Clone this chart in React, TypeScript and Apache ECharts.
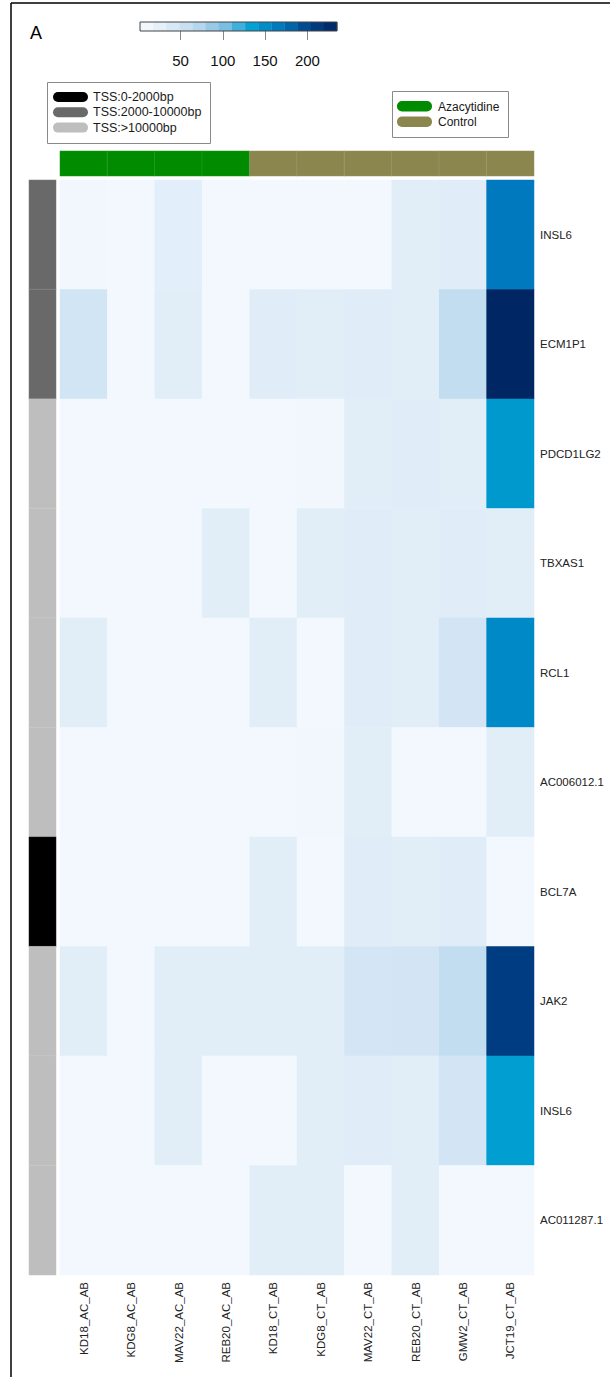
import React, { useEffect, useRef } from "react";
import * as echarts from "echarts";

const columns = [
  "KD18_AC_AB", "KDG8_AC_AB", "MAV22_AC_AB", "REB20_AC_AB", "KD18_CT_AB",
  "KDG8_CT_AB", "MAV22_CT_AB", "REB20_CT_AB", "GMW2_CT_AB", "JCT19_CT_AB",
];
const genes = [
  "INSL6", "ECM1P1", "PDCD1LG2", "TBXAS1", "RCL1",
  "AC006012.1", "BCL7A", "JAK2", "INSL6", "AC011287.1",
];
// rows = genes, columns = samples
const values = [
  [10, 8, 29, 9, 8, 8, 9, 30, 31, 167],
  [46, 9, 30, 8, 31, 30, 31, 30, 62, 233],
  [9, 9, 8, 8, 9, 10, 30, 31, 30, 141],
  [9, 8, 9, 30, 9, 30, 31, 30, 31, 30],
  [30, 9, 8, 9, 30, 9, 31, 30, 45, 154],
  [9, 9, 8, 9, 9, 10, 30, 8, 8, 30],
  [9, 9, 9, 8, 30, 9, 31, 30, 31, 9],
  [30, 9, 30, 30, 30, 30, 44, 45, 62, 208],
  [9, 9, 30, 9, 8, 30, 31, 30, 45, 137],
  [9, 9, 9, 9, 30, 30, 9, 30, 9, 9],
];
const treatment = [
  "Azacytidine", "Azacytidine", "Azacytidine", "Azacytidine",
  "Control", "Control", "Control", "Control", "Control", "Control",
];
const tssClass = [
  "TSS:2000-10000bp", "TSS:2000-10000bp", "TSS:>10000bp", "TSS:>10000bp", "TSS:>10000bp",
  "TSS:>10000bp", "TSS:0-2000bp", "TSS:>10000bp", "TSS:>10000bp", "TSS:>10000bp",
];
const tssLevels = ["TSS:0-2000bp", "TSS:2000-10000bp", "TSS:>10000bp"];
const treatmentLevels = ["Azacytidine", "Control"];
const keyTicks = [50, 100, 150, 200];
const keyBreaks = [2, 17.5, 33, 48.6, 64.1, 79.7, 95.2, 110.7, 126.3, 141.8, 157.3, 172.9, 188.4, 204, 219.5, 235];
const valueMin = 2;
const valueMax = 235;

const tssColors = ["#000000", "#696969", "#BEBEBE"];
const treatmentColors = ["#008B00", "#8B864E"];
const rampColors = ["#F7FBFF", "#DDEBF7", "#BBD8EE", "#7DC0E3", "#00A0D2", "#0077BE", "#004288", "#002461"];

const FONT = "'Liberation Sans', Arial, Helvetica, sans-serif";

export default function App() {
  const ref = useRef<HTMLDivElement>(null);
  useEffect(() => {
    document.body.style.margin = "0";
    if (!ref.current) return;
    const chart = echarts.init(ref.current, undefined, { renderer: "svg" });

    const heatData: number[][] = [];
    values.forEach((row, r) => row.forEach((v, c) => heatData.push([c, r, v])));
    const tssData = tssClass.map((t, r) => [0, r, tssLevels.indexOf(t)]);
    const trtData = treatment.map((t, c) => [c, 0, treatmentLevels.indexOf(t)]);
    const keyData: number[][] = [];
    for (let i = 0; i < keyBreaks.length - 1; i++) {
      keyData.push([keyBreaks[i], keyBreaks[i + 1], (keyBreaks[i] + keyBreaks[i + 1]) / 2]);
    }

    const legendItems: any[] = [];
    legendItems.push({
      type: "rect", shape: { x: 47.5, y: 82.5, width: 163, height: 61 },
      style: { fill: "none", stroke: "#8a8a8a", lineWidth: 1 }, z: 10,
    });
    tssLevels.forEach((t, i) => {
      legendItems.push({
        type: "rect", shape: { x: 53, y: 92 + i * 15.3, width: 35, height: 10, r: 5 },
        style: { fill: tssColors[i] }, z: 10,
      });
      legendItems.push({
        type: "text", x: 93, y: 97 + i * 15.3,
        style: { text: t, fontSize: 12.5, fontFamily: FONT, fill: "#1a1a1a", verticalAlign: "middle", align: "left" }, z: 10,
      });
    });
    legendItems.push({
      type: "rect", shape: { x: 392.5, y: 91.5, width: 116, height: 46 },
      style: { fill: "none", stroke: "#8a8a8a", lineWidth: 1 }, z: 10,
    });
    treatmentLevels.forEach((t, i) => {
      legendItems.push({
        type: "rect", shape: { x: 397, y: 101 + i * 15.5, width: 35, height: 10.5, r: 5 },
        style: { fill: treatmentColors[i] }, z: 10,
      });
      legendItems.push({
        type: "text", x: 438, y: 106.5 + i * 15.5,
        style: { text: t, fontSize: 12, fontFamily: FONT, fill: "#1a1a1a", verticalAlign: "middle", align: "left" }, z: 10,
      });
    });

    const hiddenAxis = { show: false };
    const noAxisDecor = {
      axisLine: { show: false }, axisTick: { show: false }, splitLine: { show: false },
    };

    chart.setOption({
      animation: false,
      backgroundColor: "#ffffff",
      textStyle: { fontFamily: FONT },
      grid: [
        { left: 60, top: 180, width: 474, height: 1095 },
        { left: 29, top: 180, width: 27, height: 1095 },
        { left: 60, top: 151, width: 474, height: 25 },
        { left: 140, top: 22, width: 197, height: 9 },
      ],
      xAxis: [
        {
          type: "category", data: columns, gridIndex: 0, position: "bottom", ...noAxisDecor,
          axisLabel: { rotate: 90, interval: 0, margin: 7, fontSize: 11.5, color: "#222", fontFamily: FONT },
        },
        { type: "category", data: ["TSS"], gridIndex: 1, ...hiddenAxis },
        { type: "category", data: columns, gridIndex: 2, ...hiddenAxis },
        {
          type: "value", gridIndex: 3, min: valueMin, max: valueMax, position: "bottom",
          axisLine: { show: false }, splitLine: { show: false },
          axisTick: { show: true, customValues: keyTicks, length: 9, lineStyle: { color: "#888", width: 1 } },
          axisLabel: { show: true, customValues: keyTicks, margin: 22, fontSize: 15, color: "#111", fontFamily: FONT },
        },
      ],
      yAxis: [
        {
          type: "category", data: genes, gridIndex: 0, inverse: true, position: "right", ...noAxisDecor,
          axisLabel: { interval: 0, margin: 6, fontSize: 11.5, color: "#222", fontFamily: FONT },
        },
        { type: "category", data: genes, gridIndex: 1, inverse: true, ...hiddenAxis },
        { type: "category", data: ["Treatment"], gridIndex: 2, ...hiddenAxis },
        { type: "value", gridIndex: 3, min: 0, max: 1, ...hiddenAxis },
      ],
      visualMap: [
        {
          type: "continuous", show: false, min: valueMin, max: valueMax, dimension: 2,
          seriesIndex: [0, 3], inRange: { color: rampColors },
        },
        {
          type: "piecewise", show: false, dimension: 2, seriesIndex: 1,
          pieces: tssLevels.map((t, i) => ({ value: i, color: tssColors[i], label: t })),
        },
        {
          type: "piecewise", show: false, dimension: 2, seriesIndex: 2,
          pieces: treatmentLevels.map((t, i) => ({ value: i, color: treatmentColors[i], label: t })),
        },
      ],
      series: [
        {
          type: "heatmap", xAxisIndex: 0, yAxisIndex: 0, data: heatData,
          itemStyle: { borderWidth: 0 }, emphasis: { disabled: true }, progressive: 0,
        },
        {
          type: "heatmap", xAxisIndex: 1, yAxisIndex: 1, data: tssData,
          itemStyle: { borderWidth: 0.6, borderColor: "rgba(255,255,255,0.18)" }, emphasis: { disabled: true },
        },
        {
          type: "heatmap", xAxisIndex: 2, yAxisIndex: 2, data: trtData,
          itemStyle: { borderWidth: 0.6, borderColor: "rgba(255,255,255,0.18)" }, emphasis: { disabled: true },
        },
        {
          type: "custom", xAxisIndex: 3, yAxisIndex: 3, data: keyData,
          dimensions: ["start", "end", "value"], encode: { x: [0, 1] }, silent: true,
          renderItem: (params: any, api: any) => {
            const s = api.coord([api.value(0), 1]);
            const e = api.coord([api.value(1), 0]);
            return {
              type: "rect",
              shape: { x: s[0], y: s[1], width: e[0] - s[0] + 0.3, height: e[1] - s[1] },
              style: { fill: api.visual("color") },
            };
          },
        },
      ],
      graphic: [
        { type: "line", shape: { x1: 11, y1: 3, x2: 11, y2: 1380 }, style: { stroke: "#000", lineWidth: 1.5 }, z: 10 },
        { type: "line", shape: { x1: 11, y1: 3, x2: 612, y2: 3 }, style: { stroke: "#000", lineWidth: 1.5 }, z: 10 },
        {
          type: "text", x: 30, y: 24,
          style: { text: "A", fontSize: 18, fontFamily: FONT, fill: "#000" }, z: 10,
        },
        {
          type: "rect", shape: { x: 140, y: 22, width: 197, height: 9 },
          style: { fill: "none", stroke: "#444", lineWidth: 1 }, z: 20,
        },
        ...legendItems,
      ],
    });
    return () => chart.dispose();
  }, []);
  return <div ref={ref} style={{ width: 610, height: 1377 }} />;
}
